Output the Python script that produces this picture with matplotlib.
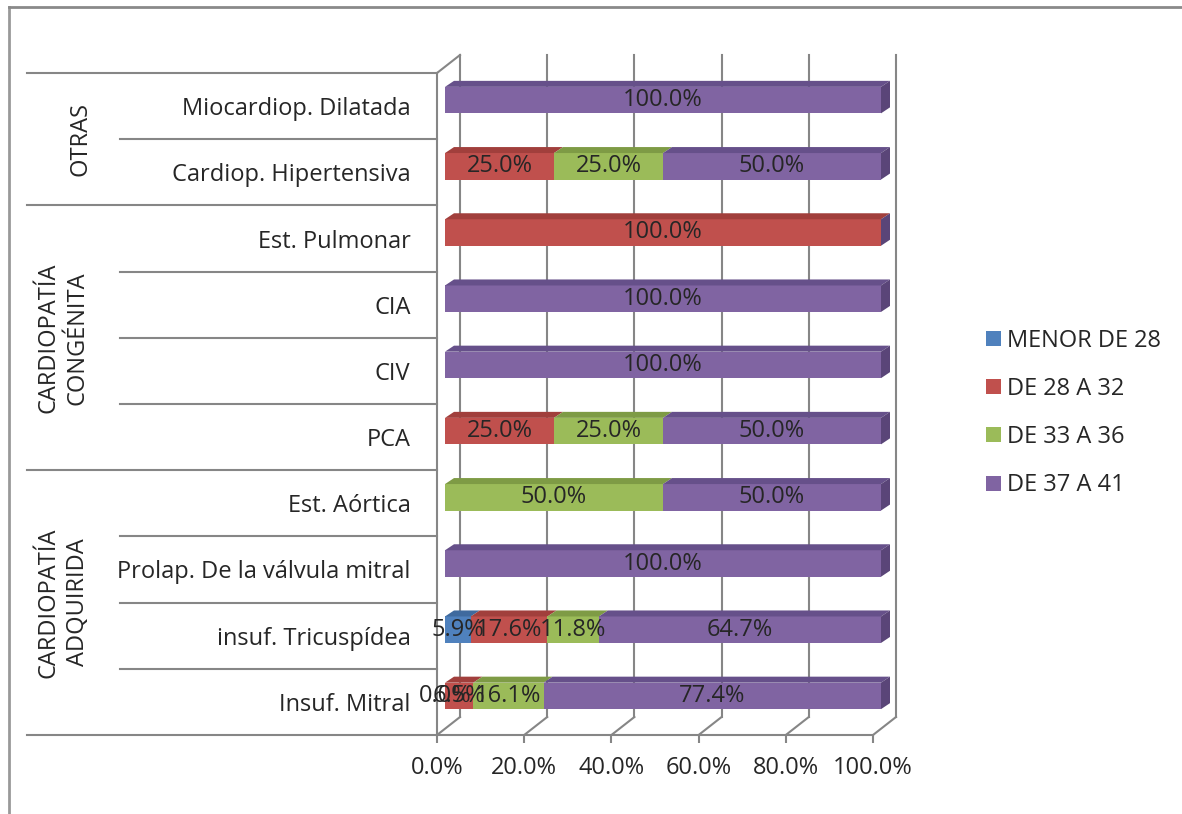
import numpy as np
import matplotlib.pyplot as plt
from matplotlib.patches import Polygon
from matplotlib.transforms import ScaledTranslation, blended_transform_factory
from matplotlib.lines import Line2D

plt.rcParams['font.family'] = ['Open Sans', 'DejaVu Sans']

# categorias de abajo hacia arriba
categorias = ["Insuf. Mitral", "insuf. Tricuspídea", "Prolap. De la válvula mitral",
              "Est. Aórtica", "PCA", "CIV", "CIA", "Est. Pulmonar",
              "Cardiop. Hipertensiva", "Miocardiop. Dilatada"]
grupos = ["CARDIOPATÍA\nADQUIRIDA", "CARDIOPATÍA\nCONGÉNITA", "OTRAS"]
tam_grupos = [4, 4, 2]

series = ["MENOR DE 28", "DE 28 A 32", "DE 33 A 36", "DE 37 A 41"]
nan = np.nan
menor_28 = [0.0, 5.9, nan, nan, nan, nan, nan, nan, nan, nan]
de_28_32 = [6.5, 17.6, nan, nan, 25.0, nan, nan, 100.0, 25.0, nan]
de_33_36 = [16.1, 11.8, nan, 50.0, 25.0, nan, nan, nan, 25.0, nan]
de_37_41 = [77.4, 64.7, 100.0, 50.0, 50.0, 100.0, 100.0, nan, 50.0, 100.0]

colores = ["#4F81BD", "#C0504D", "#9BBB59", "#8064A2"]
colores_sup = ["#3F6A9E", "#A13F3C", "#7E9B45", "#66508A"]
color_lado = "#5A4578"
gris = "#868686"
texto = "#262626"
fs = 17

W, H = 1182, 814
fig = plt.figure(figsize=(W / 100, H / 100), dpi=100)
ax = fig.add_axes([437 / W, 79 / H, 436 / W, 662 / H])
ax.set_xlim(0, 100)
ax.set_ylim(-0.5, 9.5)

# pixeles por unidad de datos
ux = 436 / 100
uy = 662 / 10

def desplaz(dx, dy):
    return ScaledTranslation(dx / 100, dy / 100, fig.dpi_scale_trans)

t_barra = ax.transData + desplaz(8, 6)
t_fondo = ax.transData + desplaz(23, 18)

# profundidad de las barras en unidades de datos
bdx, bdy = 9 / ux, 6 / uy
# profundidad del piso/pared
pdx, pdy = 23 / ux, 18 / uy

# pared del fondo: lineas de division
for v in np.arange(0, 101, 20):
    ax.plot([v, v], [-0.5, 9.5], color=gris, lw=1.5, transform=t_fondo, zorder=1, clip_on=False)
    ax.plot([v, v + pdx], [-0.5, -0.5 + pdy], color=gris, lw=1.5, zorder=1, clip_on=False)
ax.plot([0, pdx], [9.5, 9.5 + pdy], color=gris, lw=1.5, zorder=1, clip_on=False)

# barras apiladas con caras superior y lateral
valores = [menor_28, de_28_32, de_33_36, de_37_41]
h = 0.4
izq = np.zeros(len(categorias))
y = np.arange(len(categorias))
for k, serie in enumerate(valores):
    v = np.array(serie, dtype=float)
    w = np.nan_to_num(v)
    ax.barh(y, w, left=izq, height=h, color=colores[k], label=series[k],
            transform=t_barra, zorder=3, clip_on=False)
    for i in range(len(y)):
        if w[i] > 0:
            yt = y[i] + h / 2
            ax.add_patch(Polygon([(izq[i], yt), (izq[i] + w[i], yt),
                                  (izq[i] + w[i] + bdx, yt + bdy), (izq[i] + bdx, yt + bdy)],
                                 closed=True, facecolor=colores_sup[k], edgecolor="none",
                                 transform=t_barra, zorder=3, clip_on=False))
        if not np.isnan(v[i]):
            ax.text(izq[i] + w[i] / 2, y[i], f"{v[i]:.1f}%", ha="center", va="center",
                    fontsize=fs, color=texto, transform=t_barra, zorder=5)
    izq = izq + w

for i in range(len(y)):
    r = izq[i]
    yb, yt = y[i] - h / 2, y[i] + h / 2
    ax.add_patch(Polygon([(r, yb), (r, yt), (r + bdx, yt + bdy), (r + bdx, yb + bdy)],
                         closed=True, facecolor=color_lado, edgecolor="none",
                         transform=t_barra, zorder=3, clip_on=False))

# ejes
for s in ["top", "right"]:
    ax.spines[s].set_visible(False)
for s in ["left", "bottom"]:
    ax.spines[s].set_color(gris)
    ax.spines[s].set_linewidth(1.5)
ax.set_xticks(np.arange(0, 101, 20), [f"{v:.1f}%" for v in np.arange(0, 101, 20)])
ax.tick_params(axis="x", length=6, width=1.5, color=gris, pad=9, labelsize=fs, labelcolor=texto)
ax.set_yticks(y, categorias)
ax.tick_params(axis="y", length=0, pad=19, labelsize=fs, labelcolor=texto)

# tabla de grupos a la izquierda
tr = blended_transform_factory(ax.transAxes, ax.transData)
x_grupo = (27 - 437) / 436
x_item = (120 - 437) / 436
bordes = np.cumsum([0] + tam_grupos) - 0.5
for yy in np.arange(-0.5, 10, 1.0):
    x0 = x_grupo if np.any(np.isclose(bordes, yy)) else x_item
    ax.plot([x0, 0], [yy, yy], color=gris, lw=1.5, transform=tr, clip_on=False)

x_etiq = [(63 - 437) / 436, (63 - 437) / 436, (80 - 437) / 436]
for g, nombre in enumerate(grupos):
    yc = (bordes[g] + bordes[g + 1]) / 2
    ax.text(x_etiq[g], yc, nombre, rotation=90, ha="center", va="center",
            fontsize=fs, color=texto, transform=tr, multialignment="center",
            linespacing=1.3)

ax.legend(loc="center left", bbox_to_anchor=(986 / W, 1 - 413 / H),
          bbox_transform=fig.transFigure, frameon=False, fontsize=fs,
          handlelength=0.62, handleheight=0.62, handletextpad=0.25,
          labelspacing=1.03, borderpad=0, borderaxespad=0, labelcolor=texto)

# marco del grafico
fig.add_artist(Line2D([9 / W, 9 / W], [0, 1 - 7 / H], color="#999999", lw=2,
                      transform=fig.transFigure))
fig.add_artist(Line2D([9 / W, 1], [1 - 7 / H, 1 - 7 / H], color="#8a8a8a", lw=2,
                      transform=fig.transFigure))

fig.savefig("out.png", dpi=100, facecolor="white")
